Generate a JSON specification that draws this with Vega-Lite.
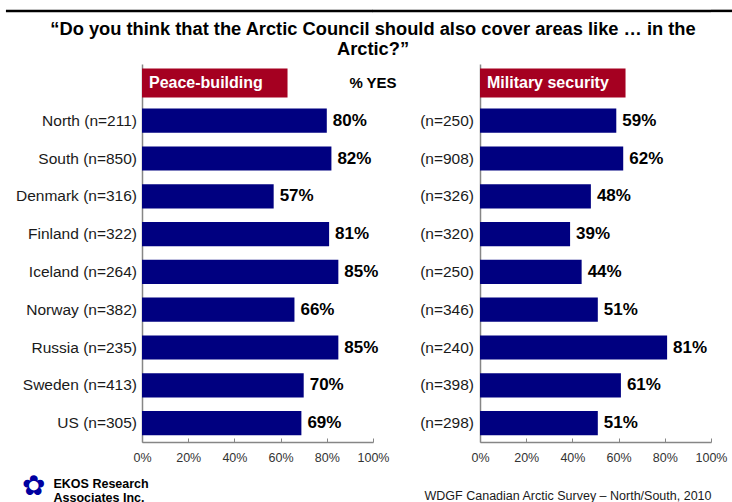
{
  "$schema": "https://vega.github.io/schema/vega-lite/v6.json",
  "background": "white",
  "padding": {"left": 5, "top": 9, "right": 0, "bottom": 0},
  "autosize": {"type": "pad"},
  "config": {"view": {"stroke": null}, "font": "Liberation Sans"},
  "datasets": {
    "peace": [
      {"country": "North", "label": "North (n=211)", "pct": 0.80},
      {"country": "South", "label": "South (n=850)", "pct": 0.82},
      {"country": "Denmark", "label": "Denmark (n=316)", "pct": 0.57},
      {"country": "Finland", "label": "Finland (n=322)", "pct": 0.81},
      {"country": "Iceland", "label": "Iceland (n=264)", "pct": 0.85},
      {"country": "Norway", "label": "Norway (n=382)", "pct": 0.66},
      {"country": "Russia", "label": "Russia (n=235)", "pct": 0.85},
      {"country": "Sweden", "label": "Sweden (n=413)", "pct": 0.70},
      {"country": "US", "label": "US (n=305)", "pct": 0.69}
    ],
    "military": [
      {"country": "North", "label": "(n=250)", "pct": 0.59},
      {"country": "South", "label": "(n=908)", "pct": 0.62},
      {"country": "Denmark", "label": "(n=326)", "pct": 0.48},
      {"country": "Finland", "label": "(n=320)", "pct": 0.39},
      {"country": "Iceland", "label": "(n=250)", "pct": 0.44},
      {"country": "Norway", "label": "(n=346)", "pct": 0.51},
      {"country": "Russia", "label": "(n=240)", "pct": 0.81},
      {"country": "Sweden", "label": "(n=398)", "pct": 0.61},
      {"country": "US", "label": "(n=298)", "pct": 0.51}
    ]
  },
  "spacing": 107,
  "bounds": "flush",
  "hconcat": [
    {
      "width": 231,
      "height": 378,
      "layer": [
        {
          "data": {"name": "peace"},
          "mark": {"type": "bar", "color": "#000080"},
          "encoding": {
            "y": {"field": "country", "type": "nominal",
              "scale": {"domain": ["header", "North", "South", "Denmark", "Finland", "Iceland", "Norway", "Russia", "Sweden", "US"], "paddingInner": 0.36, "paddingOuter": 0.18},
              "axis": {"labels": false, "ticks": false, "title": null, "domainColor": "#868686", "domainWidth": 1.5}},
            "x": {"field": "pct", "type": "quantitative", "scale": {"domain": [0, 1]},
              "axis": {"values": [0, 0.2, 0.4, 0.6, 0.8, 1], "format": ".0%", "grid": false, "labelFlush": false, "domainColor": "#868686", "domainWidth": 1.5, "tickColor": "#868686", "tickSize": -4, "labelPadding": 13, "labelFontSize": 12.5, "labelColor": "#333333",
                "title": ["EKOS Research", "Associates Inc."], "titleFontSize": 12.5, "titleFontWeight": "bold", "titleColor": "black", "titleX": -89, "titleY": 35, "titleAlign": "left", "titleBaseline": "top", "titleLineHeight": 14}}
          }
        },
        {
          "data": {"name": "peace"},
          "mark": {"type": "text", "align": "left", "baseline": "middle", "dx": 6, "fontWeight": "bold", "fontSize": 17, "color": "black"},
          "encoding": {
            "y": {"field": "country", "type": "nominal"},
            "x": {"field": "pct", "type": "quantitative"},
            "text": {"field": "pct", "type": "quantitative", "format": ".0%"}
          }
        },
        {
          "data": {"name": "peace"},
          "mark": {"type": "text", "align": "right", "baseline": "middle", "dx": -5, "fontSize": 15.5, "color": "#1a1a1a"},
          "encoding": {
            "y": {"field": "country", "type": "nominal"},
            "x": {"datum": 0, "type": "quantitative"},
            "text": {"field": "label"}
          }
        },
        {
          "data": {"values": [{"title": "Peace-building"}]},
          "layer": [
            {
              "mark": {"type": "bar", "color": "#A50021", "height": {"band": 1.2}},
              "encoding": {
                "y": {"datum": "header", "type": "nominal"},
                "x": {"datum": 0, "type": "quantitative"},
                "x2": {"datum": 0.63}
              }
            },
            {
              "mark": {"type": "text", "align": "left", "baseline": "middle", "dx": 7, "fontWeight": "bold", "fontSize": 16, "color": "white"},
              "encoding": {
                "y": {"datum": "header", "type": "nominal"},
                "x": {"datum": 0, "type": "quantitative"},
                "text": {"field": "title"}
              }
            }
          ]
        },
        {
          "data": {"values": [{"t": "% YES"}]},
          "mark": {"type": "text", "align": "center", "baseline": "middle", "fontWeight": "bold", "fontSize": 15, "color": "black"},
          "encoding": {
            "y": {"datum": "header", "type": "nominal"},
            "x": {"datum": 1, "type": "quantitative"},
            "text": {"field": "t"}
          }
        },
        {
          "data": {"values": [{"t": "“Do you think that the Arctic Council should also cover areas like … in the\nArctic?”"}]},
          "mark": {"type": "text", "align": "center", "baseline": "top", "lineBreak": "\n", "lineHeight": 20, "fontWeight": "bold", "fontSize": 18.3, "color": "black", "yOffset": -62},
          "encoding": {
            "y": {"datum": "header", "type": "nominal"},
            "x": {"datum": 1, "type": "quantitative"},
            "text": {"field": "t"}
          }
        },
        {
          "data": {"values": [{"t": "line"}]},
          "mark": {"type": "bar", "color": "black", "height": 2.5, "yOffset": -72},
          "encoding": {
            "y": {"datum": "header", "type": "nominal"},
            "x": {"datum": 0, "type": "quantitative"},
            "x2": {"datum": 1}
          }
        },
        {
          "data": {"values": [{"t": "line"}]},
          "mark": {"type": "bar", "color": "black", "height": 2.5, "yOffset": -72},
          "encoding": {
            "y": {"datum": "header", "type": "nominal"},
            "x": {"datum": -0.589, "type": "quantitative"},
            "x2": {"datum": 0}
          }
        },
        {
          "data": {"values": [{"t": "✿"}]},
          "mark": {"type": "text", "align": "center", "baseline": "middle", "fontSize": 28, "color": "#0000A0", "yOffset": 64},
          "encoding": {
            "y": {"datum": "US", "type": "nominal"},
            "x": {"datum": -0.47, "type": "quantitative"},
            "text": {"field": "t"}
          }
        }
      ]
    },
    {
      "width": 231,
      "height": 378,
      "layer": [
        {
          "data": {"name": "military"},
          "mark": {"type": "bar", "color": "#000080"},
          "encoding": {
            "y": {"field": "country", "type": "nominal",
              "scale": {"domain": ["header", "North", "South", "Denmark", "Finland", "Iceland", "Norway", "Russia", "Sweden", "US"], "paddingInner": 0.36, "paddingOuter": 0.18},
              "axis": {"labels": false, "ticks": false, "title": null, "domainColor": "#868686", "domainWidth": 1.5}},
            "x": {"field": "pct", "type": "quantitative", "scale": {"domain": [0, 1]},
              "axis": {"values": [0, 0.2, 0.4, 0.6, 0.8, 1], "format": ".0%", "grid": false, "labelFlush": false, "domainColor": "#868686", "domainWidth": 1.5, "tickColor": "#868686", "tickSize": -4, "labelPadding": 13, "labelFontSize": 12.5, "labelColor": "#333333",
                "title": "WDGF Canadian Arctic Survey – North/South, 2010", "titleFontSize": 12.5, "titleFontWeight": "normal", "titleColor": "#1a1a1a", "titleAnchor": "end", "titleY": 47, "titleBaseline": "top"}}
          }
        },
        {
          "data": {"name": "military"},
          "mark": {"type": "text", "align": "left", "baseline": "middle", "dx": 6, "fontWeight": "bold", "fontSize": 17, "color": "black"},
          "encoding": {
            "y": {"field": "country", "type": "nominal"},
            "x": {"field": "pct", "type": "quantitative"},
            "text": {"field": "pct", "type": "quantitative", "format": ".0%"}
          }
        },
        {
          "data": {"name": "military"},
          "mark": {"type": "text", "align": "right", "baseline": "middle", "dx": -6, "fontSize": 15.5, "color": "#1a1a1a"},
          "encoding": {
            "y": {"field": "country", "type": "nominal"},
            "x": {"datum": 0, "type": "quantitative"},
            "text": {"field": "label"}
          }
        },
        {
          "data": {"values": [{"title": "Military security"}]},
          "layer": [
            {
              "mark": {"type": "bar", "color": "#A50021", "height": {"band": 1.2}},
              "encoding": {
                "y": {"datum": "header", "type": "nominal"},
                "x": {"datum": 0, "type": "quantitative"},
                "x2": {"datum": 0.63}
              }
            },
            {
              "mark": {"type": "text", "align": "left", "baseline": "middle", "dx": 7, "fontWeight": "bold", "fontSize": 16, "color": "white"},
              "encoding": {
                "y": {"datum": "header", "type": "nominal"},
                "x": {"datum": 0, "type": "quantitative"},
                "text": {"field": "title"}
              }
            }
          ]
        },
        {
          "data": {"values": [{"t": "line"}]},
          "mark": {"type": "bar", "color": "black", "height": 2.5, "yOffset": -72},
          "encoding": {
            "y": {"datum": "header", "type": "nominal"},
            "x": {"datum": 0, "type": "quantitative"},
            "x2": {"datum": 1}
          }
        },
        {
          "data": {"values": [{"t": "line"}]},
          "mark": {"type": "bar", "color": "black", "height": 2.5, "yOffset": -72},
          "encoding": {
            "y": {"datum": "header", "type": "nominal"},
            "x": {"datum": -0.465, "type": "quantitative"},
            "x2": {"datum": 0}
          }
        },
        {
          "data": {"values": [{"t": "line"}]},
          "mark": {"type": "bar", "color": "black", "height": 2.5, "yOffset": -72},
          "encoding": {
            "y": {"datum": "header", "type": "nominal"},
            "x": {"datum": 1, "type": "quantitative"},
            "x2": {"datum": 1.1}
          }
        }
      ]
    }
  ]
}
